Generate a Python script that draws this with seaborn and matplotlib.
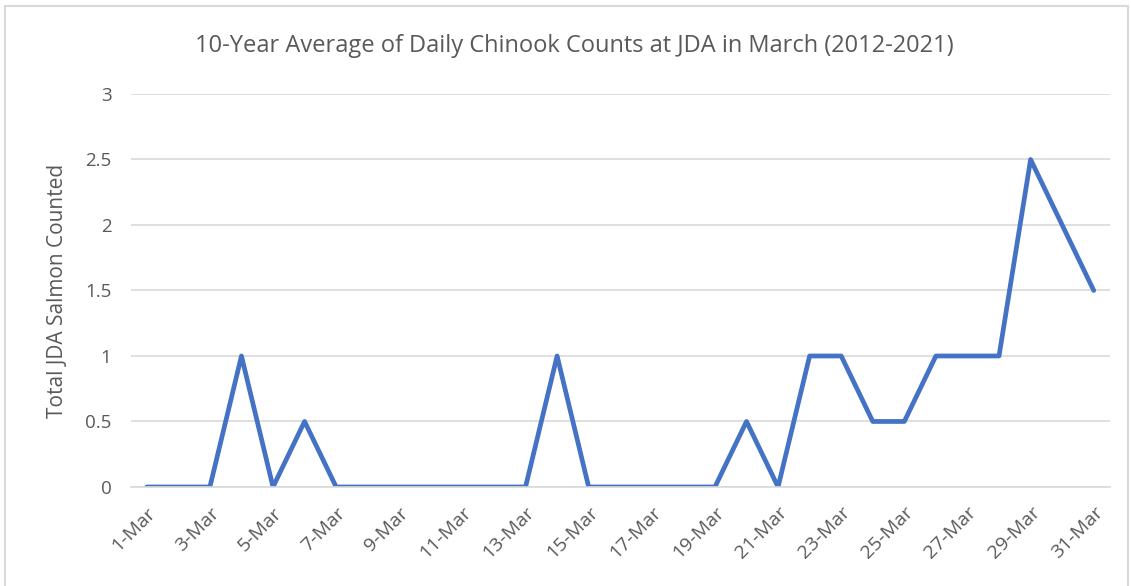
import matplotlib
matplotlib.use("Agg")
import matplotlib.pyplot as plt
from matplotlib.patches import Rectangle
import seaborn as sns
import pandas as pd

# Daily chinook counts, 10-year average, March (JDA)
days = list(range(1, 32))
counts = [0, 0, 0, 1, 0, 0.5, 0, 0, 0, 0,
          0, 0, 0, 1, 0, 0, 0, 0, 0, 0.5,
          0, 1, 1, 0.5, 0.5, 1, 1, 1, 2.5, 2, 1.5]
day_labels = [f"{d}-Mar" for d in days]

GRAY = '#595959'
BLUE = '#4472C4'

sns.set_theme(style="white")
plt.rcParams['font.family'] = ['Open Sans', 'DejaVu Sans']

df = pd.DataFrame({"day": days, "count": counts})

fig = plt.figure(figsize=(11.31, 5.86), dpi=100)
ax = fig.add_axes([0.1158, 0.169, 0.8652, 0.6706])

sns.lineplot(data=df, x="day", y="count", ax=ax, color=BLUE, linewidth=3.4)

ax.set_xlim(0.5, 31.5)
ax.set_ylim(0, 3)
ax.set_yticks([0, 0.5, 1, 1.5, 2, 2.5, 3])
ax.set_yticklabels(['0', '0.5', '1', '1.5', '2', '2.5', '3'])
ax.set_xticks(days[::2])
ax.set_xticklabels(day_labels[::2], rotation=45, ha='right', rotation_mode='anchor')
ax.tick_params(axis='y', colors=GRAY, labelsize=13.5, length=0, pad=14)
ax.tick_params(axis='x', colors=GRAY, labelsize=14, length=0, pad=12)

ax.grid(axis='y', color='#d9d9d9', linewidth=1.2)
ax.set_axisbelow(True)
for s in ['top', 'right', 'left']:
    ax.spines[s].set_visible(False)
ax.spines['bottom'].set_color('#d9d9d9')
ax.spines['bottom'].set_linewidth(1.2)

ax.set_xlabel('')
ax.set_ylabel('Total JDA Salmon Counted', color=GRAY, fontsize=15, labelpad=12)
fig.text(0.508, 0.922, '10-Year Average of Daily Chinook Counts at JDA in March (2012-2021)',
         ha='center', va='center', color=GRAY, fontsize=17)

# chart frame
fig.patches.append(Rectangle((0.004, -0.01), 0.993, 1.0, transform=fig.transFigure,
                             fill=False, edgecolor='#d9d9d9', linewidth=1.5))

fig.savefig('out.png', dpi=100, facecolor='white')
